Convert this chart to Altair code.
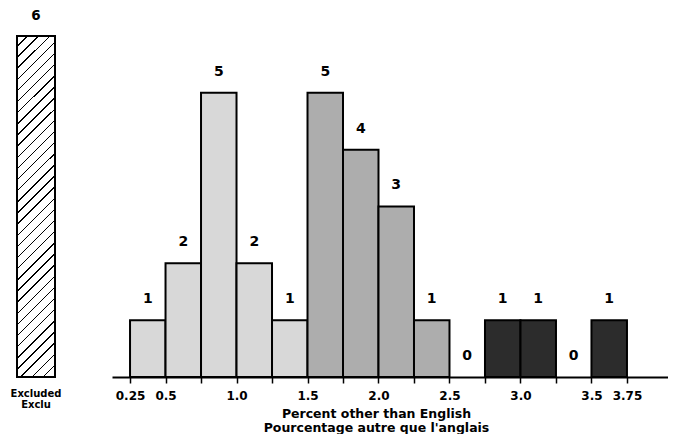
import altair as alt
import pandas as pd

# ---- data ----
bin_start = [0.25, 0.5, 0.75, 1.0, 1.25, 1.5, 1.75, 2.0, 2.25, 2.5, 2.75, 3.0, 3.25, 3.5]
bin_end = [0.5, 0.75, 1.0, 1.25, 1.5, 1.75, 2.0, 2.25, 2.5, 2.75, 3.0, 3.25, 3.5, 3.75]
counts = [1, 2, 5, 2, 1, 5, 4, 3, 1, 0, 1, 1, 0, 1]
shade = ["light", "light", "light", "light", "light",
         "medium", "medium", "medium", "medium",
         "none", "dark", "dark", "none", "dark"]
excluded_category = ["Excluded"]
excluded_count = [6]
excluded_label = ["Excluded\nExclu"]
tick_values = [0.25, 0.5, 0.75, 1.0, 1.25, 1.5, 1.75, 2.0, 2.25, 2.5, 2.75, 3.0, 3.25, 3.5, 3.75]
axis_title = ["Percent other than English", "Pourcentage autre que l'anglais"]

df = pd.DataFrame({"start": bin_start, "end": bin_end, "count": counts, "shade": shade})
df["mid"] = (df["start"] + df["end"]) / 2
excl = pd.DataFrame({"cat": excluded_category, "count": excluded_count, "label": excluded_label})

FONT = "DejaVu Sans"
ys = alt.Scale(domain=[0, 6.475], nice=False, zero=True)
xs = alt.Scale(domain=[0.123, 4.039], nice=False, zero=False)


def hatch_stops(n=34, frac=0.13):
    stops = []
    for i in range(n):
        t0 = i / n
        t1 = (i + 1 - frac) / n
        t2 = (i + 1) / n
        stops += [
            alt.GradientStop(offset=t0, color="white"),
            alt.GradientStop(offset=t1, color="white"),
            alt.GradientStop(offset=t1, color="black"),
            alt.GradientStop(offset=t2, color="black"),
        ]
    return stops


hatch = alt.LinearGradient(gradient="linear", stops=hatch_stops(),
                           x1=0, y1=0, x2=0.122, y2=1.097)

# ---- left panel: excluded ----
ex_base = alt.Chart(excl)
ex_bar = ex_base.mark_bar(size=38, fill=hatch, stroke="black", strokeWidth=2).encode(
    x=alt.X("cat:N", axis=None, scale=alt.Scale(paddingInner=0, paddingOuter=0)),
    y=alt.Y("count:Q", scale=ys, axis=None),
    y2=alt.Y2Datum(0),
)
ex_num = ex_base.mark_text(dy=-20, font=FONT, fontSize=13.5, fontWeight="bold", color="black").encode(
    x=alt.X("cat:N"), y=alt.Y("count:Q"), text="count:Q"
)
ex_lab = ex_base.mark_text(lineBreak="\n", baseline="top", dy=12, font=FONT, fontSize=10,
                           fontWeight="bold", lineHeight=11, color="black").encode(
    x=alt.X("cat:N"), y=alt.YDatum(0), text="label:N"
)
left = alt.layer(ex_bar, ex_num, ex_lab).properties(width=56, height=368)

# ---- right panel: histogram ----
label_expr = ("(datum.value == 0.25 || datum.value == 3.75) ? format(datum.value, '.2f') : "
              "(datum.value * 2 == round(datum.value * 2) ? format(datum.value, '.1f') : '')")

base = alt.Chart(df)
bars = base.transform_filter("datum.count > 0").mark_bar(stroke="black", strokeWidth=2).encode(
    x=alt.X("start:Q", scale=xs, axis=alt.Axis(
        values=tick_values, tickCount=30, labelExpr=label_expr, grid=False,
        domain=True, domainColor="black", domainWidth=2,
        ticks=True, tickColor="black", tickSize=6, tickWidth=1.5,
        labelFont=FONT, labelFontSize=12, labelFontWeight="bold", labelColor="black",
        labelPadding=7, labelFlush=False, labelOverlap=False,
        title=axis_title, titleFont=FONT, titleFontSize=12.5, titleFontWeight="bold",
        titleColor="black", titleX=264, titleLineHeight=14.5, titlePadding=6,
    )),
    x2="end:Q",
    y=alt.Y("count:Q", scale=ys, axis=None),
    y2=alt.Y2Datum(0),
    color=alt.Color("shade:N", legend=None, scale=alt.Scale(
        domain=["light", "medium", "dark", "none"],
        range=["#d8d8d8", "#adadad", "#2c2c2c", "white"])),
)
nums = base.mark_text(dy=-21, font=FONT, fontSize=14, fontWeight="bold", color="black").encode(
    x=alt.X("mid:Q", scale=xs),
    y=alt.Y("count:Q", scale=ys),
    text="count:Q",
)
right = alt.layer(bars, nums).properties(width=556, height=368)

chart = alt.hconcat(left, right, spacing=48).properties(padding=0).configure_view(stroke=None)
chart.save("out.html", embed_options={"renderer": "svg", "actions": False})
